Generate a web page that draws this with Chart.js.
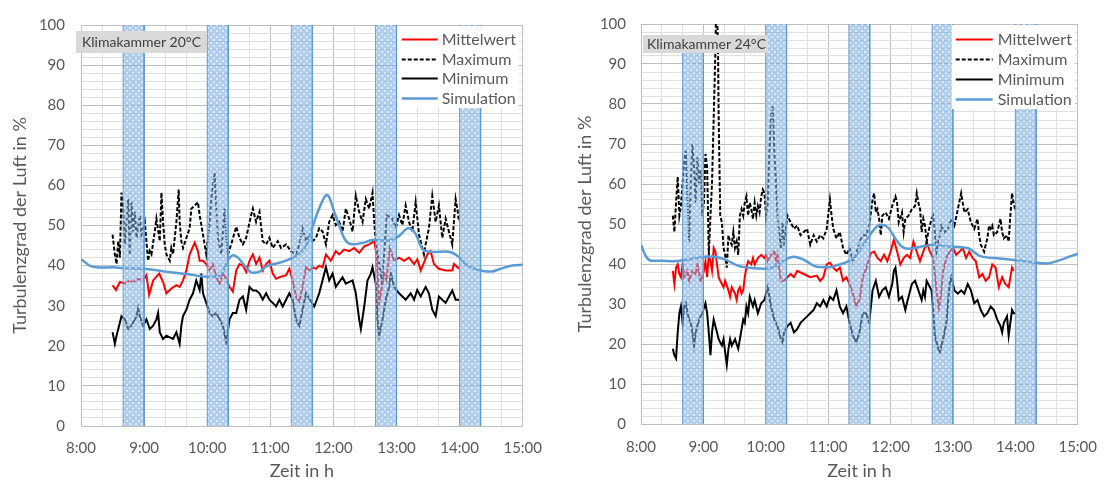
<!DOCTYPE html>
<html><head><meta charset="utf-8">
<script src="https://cdn.jsdelivr.net/npm/chart.js@4.4.1/dist/chart.umd.min.js"></script>
<style>
html,body{margin:0;padding:0;background:#fff;}
#wrap{position:relative;width:1111px;height:483px;overflow:hidden;}
.c{position:absolute;top:0;}
</style></head><body>
<div id="wrap">
<div class="c" style="left:0;width:555px;height:483px"><canvas id="c1" width="555" height="483"></canvas></div>
<div class="c" style="left:555px;width:556px;height:483px"><canvas id="c2" width="556" height="483"></canvas></div>
</div>
<script>
// ---- data (x = minutes after midnight, y = %) ----
const bandStart = [520,600,680,760,840];
const bandEnd   = [540,620,700,780,860];
const bandTop20 = [100,100,100,100,100];
const bandTop24 = [93,100,100,100,100];

// Klimakammer 20°C
const max20T = [510,512.2,513.8,515.4,517,518.5,520.1,521.7,523.3,524.9,
526.4,528,529.6,531.2,532.8,535.9,537.5,540.7,542.2,543.8,
545.4,547,550.1,551.7,554.9,556.5,558,559.6,561.2,564.4,
565.9,567.5,570.7,572.9,573.8,575.4,577,580.2,583.3,584.9,
588.1,591.2,592.8,596,599.1,602.3,603.9,607,608.6,610.2,
613.4,616.5,618.1,619.7,622.8,627.6,630.7,633.9,637,641.8,
643.4,646.5,649.7,652.8,656,659.1,662.3,667.1,670.2,675,
679.7,684.4,687.6,690.7,693.9,697.1,700.2,703.4,706.5,709.7,
712.9,716,719.2,722.3,725.5,728.7,731.8,735,738.2,741.3,
744.5,747.7,750.8,754,757.2,758.8,760.3,763.5,766,768.2,
770.8,776.1,779.2,782.4,785.6,788.7,791.9,795,798.2,801.4,
804.5,806.1,807.7,810.8,814,817.2,820.3,823.5,826.7,829.8,
833,834.6,836.2,837.8,839.4];
const max20 = [47.7,42.8,40.4,46.1,42,58.2,54.2,45.3,50.9,56.6,
42.8,55.8,48.5,53.4,46.9,52.6,47.7,50.9,46.1,41.2,
43.6,42.8,48.5,51.7,46.1,58.2,50.9,45.3,42.8,41.2,
44.4,42.8,50.9,59,50.9,46.1,44.4,46.9,49.3,54.2,
55,55.8,52.6,47.7,42.8,50.9,56.6,63.1,55,46.9,
42.8,54.2,46.9,42.8,45.3,49.7,46.9,45.3,46.9,52.6,
54.2,50.9,53.4,46.1,45.3,46.9,44.4,46.1,44.4,45.3,
43.6,42.8,45.3,49.3,46.1,47.7,46.1,46.9,49.3,48.5,
45.3,50.9,52.6,50.1,50.9,48.5,54.2,51.7,48.5,57.4,
53.4,50.9,56.6,54.2,58.2,50.9,46.1,40.4,36.3,42.8,
52.6,51.7,49.3,52.6,50.1,55,50.9,48.5,55.8,47.7,
44.4,42.8,45.3,49.3,57.4,50.9,55,46.9,51.7,48.5,
45.3,50.9,56.6,54.2,50.9];

const min20T = [510,512.2,513.8,517,518.5,521.7,524.9,528,532.8,534.3,
535.9,539.1,542.2,545.4,548.6,551.7,553.3,554.9,558,561.2,
564.4,567.5,570.7,573.8,575.4,577,580.2,583.3,586.5,589.6,
592.8,594.4,596,599.1,602.3,605.4,608.6,611.8,614.9,618.1,
621.2,624.4,627.6,630.7,633.9,637,640.2,643.4,646.5,649.7,
652.8,656,659.1,662.3,665.5,668.6,671.8,675,678.1,681.3,
684.4,687.6,690.7,693.9,701.8,706.5,712.9,716,719.2,722.3,
728.7,731.8,738.2,741.3,744.5,746.1,749.3,752.4,755.6,757.2,
760.3,761.9,763.5,766.7,769.8,773,774.6,777.7,782.4,785.6,
788.7,793.5,796.7,799.7,803,807.7,810.8,814,817.2,820.3,
826.7,833,836.2,839.4];
const min20 = [23.4,20.5,22.5,25.8,27.4,26.6,24.2,25,27.4,29.4,
27.4,25,26.6,24.2,25,26.6,28.2,23.4,21.7,22.5,
22.1,21.7,23.4,20.5,25,27.4,29,31.5,33.1,36.3,
33.9,38,33.1,30.7,28.2,27.4,28.2,26.6,25,20.9,
26.6,28.2,28.2,31.5,32.3,29,34.7,33.8,33.8,33.1,
31.5,33.1,31.5,30.7,29.8,31.5,29.8,31.5,33.1,31.5,
26.6,25,29,33.1,29.8,33.1,39.6,36.3,38,34.7,
37.1,35.5,36.3,33.1,26.6,24.2,29.8,36.3,38,39.6,
35.5,26.6,22.5,26.6,31.5,34.7,38,34.7,33.1,32.3,
31.5,33.1,31.5,33.9,32.3,34.7,33.1,29,27.4,32.3,
30.7,33.8,31.5,31.5];

const mean20T = [510,513.2,517,521.7,526.4,529.6,534.3,539.1,542.2,544.8,
548.6,554.3,558,561.2,565.9,570.7,573.8,577,580.2,583.3,
588.1,591.2,592.8,596,599.1,602.3,605.4,608.6,611.8,614.9,
618.1,621.2,624.4,627.6,630.7,633.9,637,640.2,643.4,646.5,
649.7,652.8,656,659.1,662.3,665.5,668.6,675,678.1,681.3,
684.4,687.6,690.7,693.9,697.1,700.2,703.4,706.5,709.7,712.9,
717.6,722.3,725.5,730.2,735,739.7,744.5,749.3,754,758.8,
761,763.5,768.2,770.4,773.6,777.7,782.4,787.2,791.9,796.7,
799.8,803,809.3,812.4,815.6,820.3,826.7,833,834.6,839.4];
const mean20 = [35.1,33.9,35.9,35.5,36.3,35.9,36.7,36.3,37.6,32.7,
36.3,38,35.9,33.1,34.3,35.1,34.7,36.3,38.8,42.8,
45.7,43.6,41.2,41.2,40.4,38.8,40.4,37.1,35.5,38,
36.7,34.7,33.5,38.8,40.4,40,38.4,41.2,42.8,40.4,
42,38.8,40.4,41.2,38,36.7,37.1,37.6,39.2,36.3,
32.3,31.1,34.7,39.6,38.8,39.6,39.2,40,39.6,42.8,
41.2,43.6,42.8,44,43.6,44.4,43.2,44.8,45.3,46.1,
42.8,30.7,38,36.3,44.4,41.2,42,41.2,42,40.4,
41.6,38.8,42.8,43.6,40.4,39.2,38.8,38.8,40.4,39.2];

const sim20T = [480,490,500,510,520,530,540,550,560,570,580,590,600,610,615,620,625,630,637,643,650,656,670,680,690,695,700,706,714,722,731,738,750,757,770,782,791,798,805,815,826,833,840,845,852,860,870,880,890,900];
const sim20 = [41.6,39.8,39.5,39.6,39.4,39.3,39.2,38.9,38.5,38.2,37.9,37.5,37.2,37.3,38.5,41.5,42.6,41.8,39.5,38.2,38.5,39.8,40.8,41.8,43.5,45.5,49.5,54,57.6,52.5,46.5,45.3,45.8,46.4,46.2,47.3,49.3,48,44,43.4,43.5,43.2,42,40.6,39.4,38.8,38.5,39.3,40,40.2];

// Klimakammer 24°C
const max24T = [510.6,512.1,513.7,515.3,516.9,518.4,520,521.6,523.1,524.7,
526.3,527.9,529.4,531,532.6,534.2,535.8,537.3,538.9,540.5,
542,543.6,545.2,546.8,548.3,549.9,551.5,552.2,553.4,554.1,
554.7,556.2,557.8,559.4,560.9,562.5,564.1,565.7,567.3,568.8,
570.4,572,573.5,575.1,576.7,578.3,579.8,581.4,583,584.6,
586.1,587.7,589.3,590.9,592.4,594,595.6,597.2,598.7,600.3,
601.9,603.5,605,606.6,608.2,609.8,611.3,612.9,614.5,616.1,
617.6,619.2,620.8,623.9,627.1,630.2,633.4,636.5,639.7,642.8,
646,649.1,652.3,655.4,658.6,661.7,663.3,664.9,668,671.2,
674.3,677.5,680.6,683.8,687,690.1,693.3,696.4,699.5,702.7,
704.2,705.8,707.4,709,710.6,712.1,715.3,718.4,721.6,724.7,
726.3,727.9,731,732.6,734.2,737.3,740.5,743.6,745.2,746.8,
748.4,749.9,751.5,753.1,754.7,756.3,759.4,761,762.6,764.2,
765.8,767.4,768.9,772.1,775.2,778.4,781.4,784.7,787.9,789.4,
791,794.2,797.3,800.5,803.6,805.2,806.8,808.4,810,811.5,
813.1,814.7,816.3,817.8,819.4,822.6,825.7,827.3,828.9,832,
833.6,835.2,836.8,838.3,839.9];
const max24 = [52.1,48,55.3,61.8,52.1,54.5,60.2,65.9,68.3,56.9,
45.6,60.2,69.9,64.2,55.3,66.7,60.2,63.4,52.1,55.3,
67.5,64.2,42.3,52.1,60.2,76.4,92.6,103,100.7,92.6,
76.4,52.1,50.4,44,42.3,39.1,47.2,45.6,44.8,48,
44,45.6,42.3,52.1,53.7,52.1,55.3,56.9,52.1,55.3,
53.7,51.3,55.3,52.1,54.5,52.9,56.9,58.6,57.7,52.1,
55.3,68.3,76.4,79.6,68.3,60.2,52.1,48,44,50.4,
45.6,48.8,52.1,50.4,48.8,49.6,47.2,48,48.8,44.8,
47.2,45.6,47.2,46.4,48.8,56.1,52.1,48.8,46.4,48,
44,42.3,44,40.7,42.3,45.6,47.2,47.2,49.6,56.1,
57.7,52.9,53.7,51.3,47.2,52.1,52.9,51.3,54.5,56.9,
55.3,50.4,52.9,48,51.3,52.1,53.7,54.5,57.7,55.3,
53.7,48,51.3,49.6,45.6,48,51.3,52.1,48,43.1,
45.6,47.2,49.6,48,48.8,51.3,49.6,53.7,57.7,55.3,
52.9,53.7,50.4,48.8,51.3,47.2,44.8,44,43.1,44.8,
46.4,49.6,48.8,49.6,47.2,48,51.3,48,46.4,47.2,
45.6,52.1,57.7,55.3,53.7];

const min24T = [510.6,512.1,513.7,515.3,516.9,518.4,520,521.6,523.1,524.7,
526.3,527.9,529.4,531,532.6,534.2,535.8,538.9,542,543.6,
545.2,546.8,548.3,549.9,551.5,553.1,554.7,556.2,557.8,559.4,
560.9,562.5,564.1,565.7,567.3,570.4,573.5,575.1,578.3,579.8,
581.4,583,584.6,587.7,589.3,592.4,595.6,598.7,600.3,601.9,
605,608.2,611.3,614.5,616.1,617.6,620.8,623.9,627.1,630.2,
633.4,636.5,639.7,642.8,646,649.1,652.3,655.4,658.6,661.7,
664.9,668,671.2,674.3,677.5,680.6,683.8,687,690.1,693.3,
696.4,699.5,702.7,705.8,709,712.1,715.3,718.4,721.6,723.2,
724.7,726.3,727.9,731,734.2,735.7,737.3,740.5,743.6,746.8,
749.9,751.5,753.1,754.7,756.3,759.4,761,762.6,765.8,767.4,
770.5,773.7,775.2,776.8,778.4,780,781.5,784.7,787.9,791,
794.2,797.3,800.5,803.6,806.8,810,813.1,816.3,819.4,822.6,
825.7,827.3,828.9,832,833.6,835.2,836.8,838.3,839.9];
const min24 = [18.8,17.2,16.4,22.9,27.7,29.4,25.3,29.4,30.2,27.7,
26.1,25.3,22.9,19.6,22.9,24.5,26.1,27.7,30.2,27.7,
22.9,17.2,22.9,26.1,24.5,22.9,21.2,20.4,19.6,21.2,
18,14.8,18.8,21.2,19.6,21.2,18.8,21.2,26.1,25.3,
29.4,27.7,31.8,29.4,31,27.7,30.2,31,32.6,34.2,
29.4,26.1,24.5,21.2,20.4,22.9,24.5,25.3,22.9,23.7,
25.3,26.1,26.9,27.7,28.5,30.2,29.4,31,29.4,31.8,
31,33.4,29.4,27.7,29.4,25.3,22.1,20.4,22.9,27.7,
27.7,25.3,33.4,35.8,31.8,33.4,34.2,31.8,35,38.3,
39.1,35.8,31,31.8,28.5,30.2,31.8,35,35.8,33.4,
31,33.4,31.8,35.8,35,33.4,28.5,22.1,18.8,18,
21.2,25.3,30.2,35,36.7,35,33.4,32.6,33.4,32.6,
35,33.4,30.2,31,28.5,26.9,27.7,29.4,28.5,26.1,
24.5,22.9,25.3,26.9,22.1,25.3,28.5,27.7,27.7];

const mean24T = [510.6,512.1,513.7,515.3,516.9,518.4,520,521.6,524.7,526.3,
529.4,532.6,534.2,537.3,538.9,540.5,542,543.6,545.2,546.8,
548.3,549.9,551.5,553.1,554.7,556.2,559.4,560.9,564.1,565.7,
567.3,570.4,572,573.5,575.1,576.7,578.3,579.8,581.4,583,
586.1,587.7,589.3,592.4,595.6,598.7,600.3,601.9,605,608.2,
609.8,611.3,612.9,614.5,617.6,620.8,623.9,627.1,630.2,636.5,
642.8,649.1,652.3,655.4,658.6,661.7,664.9,668,671.2,674.3,
677.5,680.6,683.8,687,690.1,693.3,696.4,699.5,701.1,704.2,
707.4,710.6,713.7,716.9,720,723.2,726.3,729.4,732.6,735.7,
738.9,742,745.2,748.3,751.5,754.7,757.8,761,764.2,766.4,
768.3,770.5,773.7,776.8,780,783.1,786.3,789.4,792.6,795.7,
798.9,802,805.2,808.3,811.5,814.7,817.8,821,824.1,827.3,
830.4,833.6,836.8,838.3];
const mean24 = [38.3,35,39.1,39.9,37.5,36.7,39.9,36.7,38.3,35.8,
38.3,37.5,39.9,35.8,36.7,38.3,40.7,36.7,42.3,40.7,
38.3,44,43.1,39.9,36.7,35.8,34.2,35.8,33.4,31.8,
34.2,32.6,31,33.4,34.2,32.6,33.4,36.7,39.1,40.7,
39.9,41.5,39.9,41.5,42.3,41.5,42.3,40.7,42.3,43.1,
40.7,42.3,39.1,35.8,35.8,36.7,37.5,36.7,38.3,37.5,
36.7,37.1,35.8,36.7,39.9,40.3,39.1,38.3,39.1,35.8,
36.7,35,32.6,29.4,31,36.7,38.7,41.5,42.7,43.1,
41.5,40.7,42.3,40.7,43.1,46,43.1,39.9,41.5,42.3,
41.5,45.6,43.1,40.7,43.1,45.6,43.1,41.5,33.4,29,
31.8,38.3,41.5,43.1,44,42.3,43.1,44,41.5,43.1,
41.5,40.7,36.7,37.5,35.8,36.7,39.9,39.1,34.2,36.7,
35,34.2,39.1,38.3];

const sim24T = [480,485,490,500,510,523,536,548,561,573,586,599,608,618,627,637,649,661,670,678,687,693,700,706,712,718,725,731,737,750,762,775,794,807,825,845,857,869,882,895,900];
const sim24 = [44.8,41.8,40.8,40.8,40.7,41,41.6,41.9,41.1,39.6,39,38.8,39.2,41,41.8,41,39.3,39.2,39.8,40.5,42.3,44.5,47.2,49.2,49.8,49,46.2,44.3,43.8,44.4,44.8,44.4,44,41.9,41.4,40.8,40.4,40.1,40.9,42.1,42.5];

const seriesNames = ['Mittelwert','Maximum','Minimum','Simulation'];
const yTitle = 'Turbulenzgrad der Luft in %';
const xTitle = 'Zeit in h';

// ---- styling ----
Chart.defaults.font.family = 'Lato, "Open Sans", sans-serif';
const MAJOR = '#bfbfbf', MINOR = '#e0e0e0', TXT = '#595959';
const BAND_EDGE = 'rgba(91,155,213,0.85)';

function makePattern() {
  const p = document.createElement('canvas'); p.width = 6; p.height = 6;
  const g = p.getContext('2d');
  g.fillStyle = 'rgba(120,170,222,0.58)'; g.fillRect(0,0,6,6);
  g.fillStyle = 'rgba(255,255,255,0.55)';
  g.fillRect(0,0,2,2); g.fillRect(3,3,2,2);
  return g.createPattern(p, 'repeat');
}
const pattern = makePattern();

const overlay = {
  id: 'overlay',
  afterDatasetsDraw(chart, args, o) {
    const ctx = chart.ctx, a = chart.chartArea;
    ctx.save();
    const t = o.tag;
    const bx = a.left + t.dx, by = a.top + t.dy;
    ctx.fillStyle = '#d9d9d9';
    ctx.fillRect(bx, by, t.w, t.h);
    ctx.fillStyle = '#404040';
    ctx.font = '14px Lato';
    ctx.textBaseline = 'middle'; ctx.textAlign = 'left';
    ctx.fillText(t.text, bx + t.tx, by + t.h/2 + 0.5);
    const L = o.legend;
    const lx = a.right - L.w - L.dr, ly = a.top + L.dy;
    ctx.fillStyle = '#ffffff';
    ctx.fillRect(lx, ly, L.w, L.h);
    const items = chart.data.datasets.filter(d => !d.isBand);
    items.forEach((d, i) => {
      const y = Math.round(ly + L.row0 + i*L.rowH) + 0.5;
      ctx.beginPath();
      ctx.setLineDash(d.borderDash || []);
      ctx.strokeStyle = d.borderColor; ctx.lineWidth = d.borderWidth;
      ctx.moveTo(lx + L.sx, y); ctx.lineTo(lx + L.sx + L.sl, y); ctx.stroke();
      ctx.setLineDash([]);
      ctx.fillStyle = TXT; ctx.font = '16px Lato';
      ctx.fillText(d.label, lx + L.tx, y + 0.5);
    });
    ctx.restore();
  }
};

function pts(xs, ys) { return xs.map((x, i) => ({x: x, y: ys[i]})); }
function bandPts(tops) {
  const out = [];
  bandStart.forEach((s, i) => {
    out.push({x: s, y: 0}, {x: s, y: tops[i]}, {x: bandEnd[i], y: tops[i]}, {x: bandEnd[i], y: 0}, {x: bandEnd[i], y: null});
  });
  return out;
}

function build(id, cfg) {
  return new Chart(document.getElementById(id), {
    type: 'line',
    data: { datasets: [
      { isBand: true, label: 'band', data: bandPts(cfg.bands), fill: 'origin', spanGaps: false,
        backgroundColor: pattern, borderColor: BAND_EDGE, borderWidth: 1, pointRadius: 0, order: 0,
        segment: { borderColor: c => (c.p0.parsed.x === c.p1.parsed.x ? BAND_EDGE : 'rgba(0,0,0,0)') } },
      { label: seriesNames[0], data: pts(cfg.meanT, cfg.mean), borderColor: '#ff0000', borderWidth: 2, pointRadius: 0, fill: false, order: 4 },
      { label: seriesNames[1], data: pts(cfg.maxT, cfg.max), borderColor: '#000000', borderWidth: 2, borderDash: [4, 2], pointRadius: 0, fill: false, order: 3 },
      { label: seriesNames[2], data: pts(cfg.minT, cfg.min), borderColor: '#000000', borderWidth: 2, pointRadius: 0, fill: false, order: 2 },
      { label: seriesNames[3], data: pts(cfg.simT, cfg.sim), borderColor: '#5b9bd5', borderWidth: 2.5, pointRadius: 0, fill: false, cubicInterpolationMode: 'monotone', order: 1 }
    ]},
    options: {
      responsive: false, animation: false, devicePixelRatio: 1,
      layout: { padding: { left: 0, top: cfg.padTop, right: cfg.padRight, bottom: 0 } },
      plugins: { legend: { display: false }, tooltip: { enabled: false },
        overlay: { tag: cfg.tag, legend: cfg.legend } },
      scales: {
        x: { type: 'linear', min: 480, max: 900,
          afterFit: s => { s.height = cfg.xAxisH; },
          ticks: { stepSize: 20, autoSkip: false, maxRotation: 0, padding: cfg.xTickPad, color: TXT, font: { size: 15 },
            callback: v => (v % 60 === 0 ? (v/60) + ':00' : '') },
          grid: { drawTicks: false, lineWidth: 1, color: c => (c.tick && c.tick.value % 60 === 0 ? MAJOR : MINOR) },
          border: { color: MAJOR },
          title: { display: true, text: xTitle, color: TXT, font: { size: 18 }, padding: { top: 0, bottom: 1 } } },
        y: { min: 0, max: 100,
          afterFit: s => { s.width = cfg.yAxisW; },
          ticks: { stepSize: 2, autoSkip: false, padding: cfg.yTickPad, color: TXT, font: { size: 15 },
            callback: v => (v % 10 === 0 ? v : '') },
          grid: { drawTicks: false, lineWidth: 1, color: c => (c.tick && c.tick.value % 10 === 0 ? MAJOR : MINOR) },
          border: { color: MAJOR },
          title: { display: true, text: yTitle, color: TXT, font: { size: 18 }, padding: { top: cfg.yTitlePad, bottom: 0 } } }
      }
    },
    plugins: [overlay]
  });
}

build('c1', { bands: bandTop20, meanT: mean20T, mean: mean20, maxT: max20T, max: max20, minT: min20T, min: min20, simT: sim20T, sim: sim20,
  padTop: 15, padRight: 31, xAxisH: 57, yAxisW: 81, xTickPad: 13, yTickPad: 16, yTitlePad: 9,
  tag: { text: 'Klimakammer 20°C', dx: -5, dy: 6, w: 131, h: 22, tx: 6 },
  legend: { w: 121, dr: 4, dy: 1, h: 82, row0: 13, rowH: 19.7, sx: 4, sl: 36, tx: 44 } });
build('c2', { bands: bandTop24, meanT: mean24T, mean: mean24, maxT: max24T, max: max24, minT: min24T, min: min24, simT: sim24T, sim: sim24,
  padTop: 13, padRight: 25, xAxisH: 59, yAxisW: 86, xTickPad: 14, yTickPad: 15, yTitlePad: 19,
  tag: { text: 'Klimakammer 24°C', dx: 2, dy: 11, w: 125, h: 18, tx: 4 },
  legend: { w: 123, dr: 3, dy: 1, h: 84, row0: 14, rowH: 20, sx: 4, sl: 37, tx: 46 } });
</script>
</body></html>
